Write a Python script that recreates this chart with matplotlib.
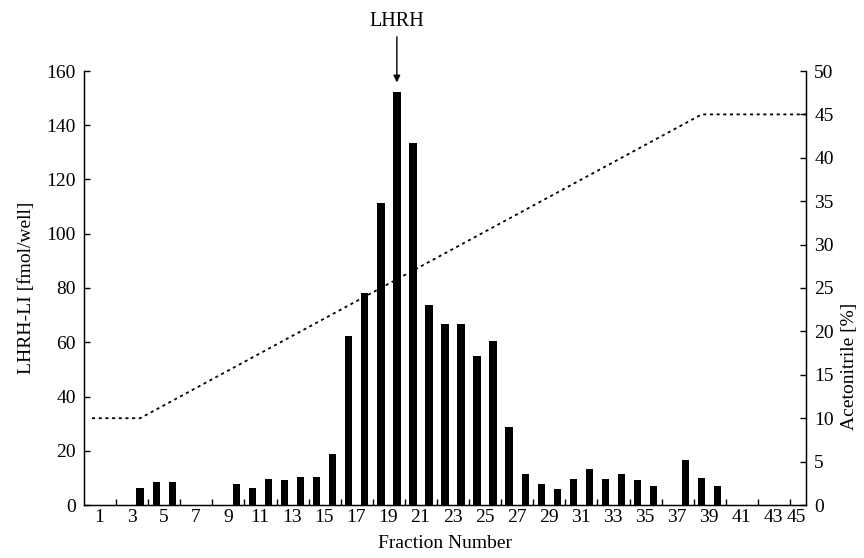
import matplotlib
matplotlib.use("Agg")
import matplotlib.pyplot as plt
import numpy as np

plt.rcParams['font.family'] = ['Liberation Serif', 'DejaVu Serif']
plt.rcParams['font.size'] = 14

# HPLC fractions and LHRH-like immunoreactivity per fraction
fractions = list(range(1, 46))
lhrh_li = [0, 0, 0, 6.4, 8.5, 8.5, 0, 0, 0, 7.7,
           6.4, 9.7, 9.2, 10.2, 10.2, 18.8, 62.4, 78.1, 111.5, 152.4,
           133.5, 73.7, 66.7, 66.7, 54.8, 60.4, 28.8, 11.6, 7.6, 5.9,
           9.6, 13.1, 9.6, 11.3, 9.2, 7.0, 0, 16.6, 9.9, 7.0,
           0, 0, 0, 0, 0]

# Acetonitrile gradient program (fraction, %)
gradient_fraction = [1, 4, 39, 45.5]
gradient_percent = [10, 10, 45, 45]

# x-axis labels (odd fractions) and their positions
xtick_labels = [str(k) for k in range(1, 46, 2)]
xtick_pos = [k + 0.47 for k in range(1, 44, 2)] + [44.9]
xtick_marks = [k + 0.5 for k in range(2, 45, 2)]

peak_fraction = 20

fig = plt.figure(figsize=(8.64, 5.58), dpi=100)
ax = fig.add_axes([84 / 864, 1 - 505 / 558, (806 - 84) / 864, (505 - 71) / 558])

ax.bar(fractions, lhrh_li, width=0.46, color='black', linewidth=0)
ax.set_xlim(0.5, 45.5)
ax.set_ylim(0, 160)
ax.set_yticks(np.arange(0, 161, 20))
ax.set_xticks(xtick_pos)
ax.set_xticklabels(xtick_labels)
ax.set_xticks(xtick_marks, minor=True)
ax.tick_params(axis='x', which='major', length=0, pad=3)
ax.tick_params(axis='x', which='minor', direction='in', length=4, width=1)
ax.tick_params(axis='y', direction='in', length=4, width=1, pad=6)
ax.spines['top'].set_visible(False)
for s in ('left', 'right', 'bottom'):
    ax.spines[s].set_linewidth(1.0)

ax.set_xlabel('Fraction Number', labelpad=6)
ax.set_ylabel('LHRH-LI [fmol/well]', labelpad=8)

ax2 = ax.twinx()
ax2.plot(gradient_fraction, gradient_percent, color='black', lw=1.3,
         linestyle=(0, (1.7, 2.0)), clip_on=False)
ax2.set_ylim(0, 50)
ax2.set_yticks(np.arange(0, 51, 5))
ax2.tick_params(axis='y', direction='in', length=4, width=1, pad=6)
ax2.spines['top'].set_visible(False)
ax2.set_ylabel('Acetonitrile [%]', labelpad=8)
ax2.yaxis.set_label_coords(1.048, 0.32)

ax.annotate('LHRH', xy=(peak_fraction, 155.8), xytext=(peak_fraction, 176.5),
            ha='center', va='baseline', fontsize=14.5, annotation_clip=False,
            arrowprops=dict(arrowstyle='-|>', color='black', lw=1,
                            shrinkA=2, shrinkB=0, mutation_scale=10))

fig.savefig('out.png', dpi=100)
